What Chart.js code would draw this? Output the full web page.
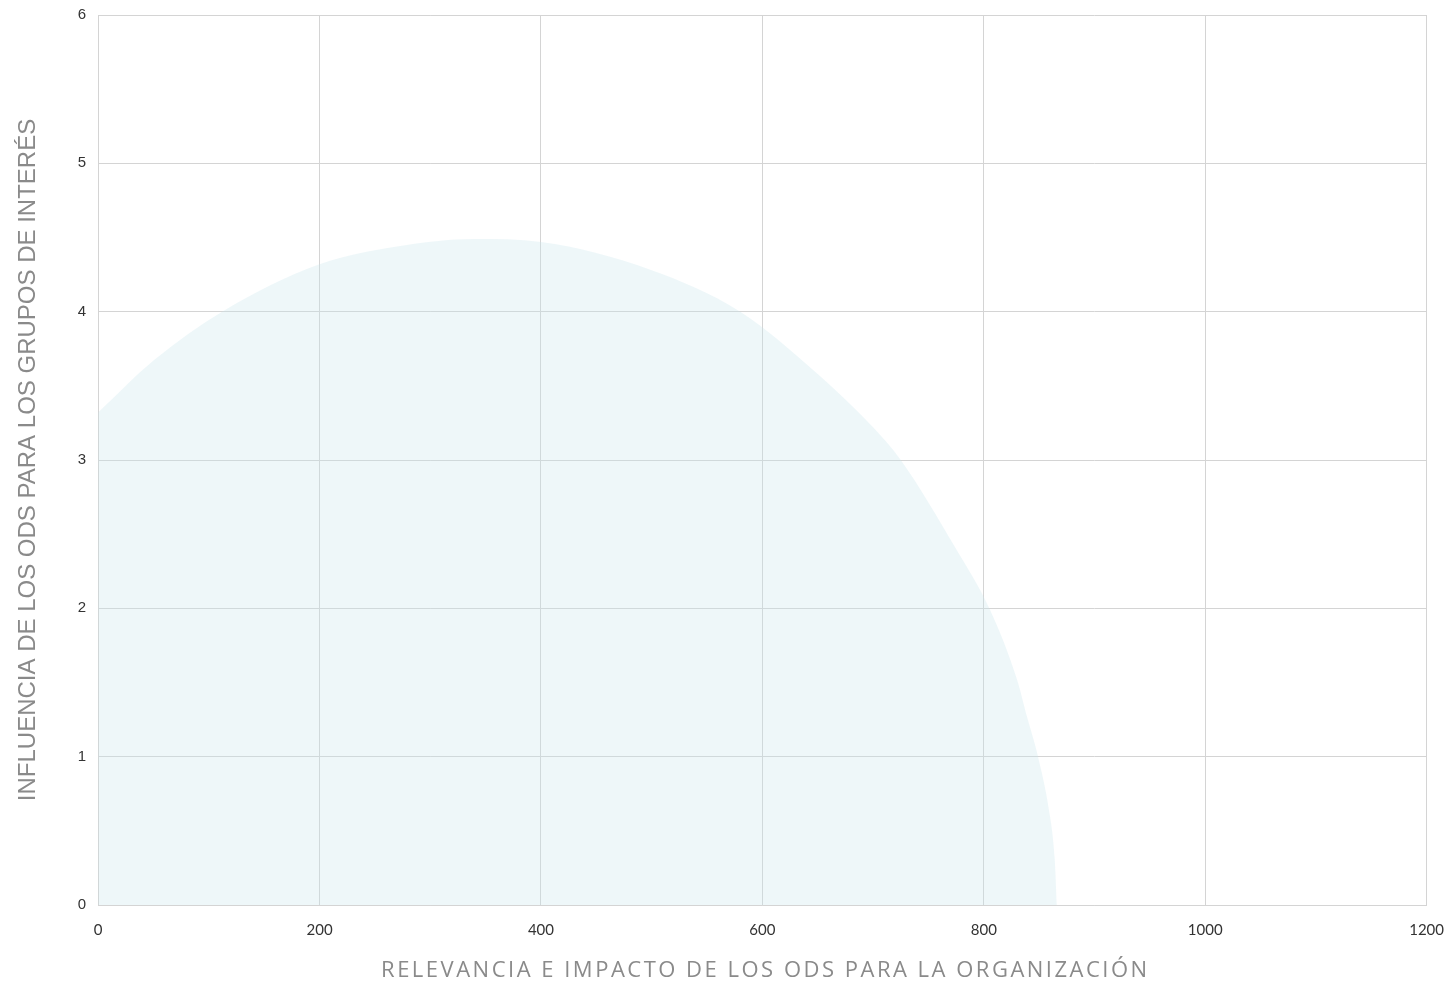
<!DOCTYPE html>
<html>
<head>
<meta charset="utf-8">
<script src="https://cdn.jsdelivr.net/npm/chart.js@4"></script>
<style>
html,body{margin:0;padding:0;background:#fff;}
#wrap{width:1450px;height:985px;}
</style>
</head>
<body>
<div id="wrap"><canvas id="c" width="1450" height="985"></canvas></div>
<script>
const xValues = [0, 50, 112, 200, 270, 340, 400, 500, 580, 650, 700, 725, 775, 805, 830, 839, 849, 860, 864, 866];
const yValues = [3.32, 3.67, 4.0, 4.32, 4.44, 4.49, 4.47, 4.28, 4.0, 3.58, 3.22, 3.0, 2.40, 2.0, 1.52, 1.27, 1.0, 0.59, 0.32, 0];
const xTickValues = [0, 200, 400, 600, 800, 1000, 1200];
const yTickValues = [0, 1, 2, 3, 4, 5, 6];
const xTitle = 'RELEVANCIA E IMPACTO DE LOS ODS PARA LA ORGANIZACIÓN';
const yTitle = 'INFLUENCIA DE LOS ODS PARA LOS GRUPOS DE INTERÉS';

const points = xValues.map((x, i) => ({x: x, y: yValues[i]}));

const xTitlePlugin = {
  id: 'xTitle',
  afterDraw(chart) {
    const ctx = chart.ctx;
    const area = chart.chartArea;
    ctx.save();
    ctx.font = '22px "Open Sans"';
    ctx.letterSpacing = '2.5px';
    ctx.fillStyle = '#8a8a8a';
    ctx.textAlign = 'center';
    ctx.textBaseline = 'middle';
    ctx.fillText(xTitle, (area.left + area.right) / 2 + 3, 971);
    ctx.restore();
  }
};

new Chart(document.getElementById('c'), {
  type: 'scatter',
  data: {
    datasets: [{
      data: points,
      showLine: true,
      fill: 'origin',
      backgroundColor: 'rgba(200,228,236,0.3)',
      borderWidth: 0,
      borderColor: 'rgba(0,0,0,0)',
      pointRadius: 0,
      cubicInterpolationMode: 'monotone'
    }]
  },
  plugins: [xTitlePlugin],
  options: {
    responsive: false,
    animation: false,
    layout: {padding: {top: 0, left: 14, right: 0, bottom: 40}},
    plugins: {legend: {display: false}, tooltip: {enabled: false}},
    scales: {
      x: {
        type: 'linear', min: xTickValues[0], max: xTickValues[xTickValues.length - 1],
        afterBuildTicks: (axis) => { axis.ticks = xTickValues.map(v => ({value: v})); },
        ticks: {color: '#333', font: {family: 'Lato', size: 15}, padding: 6, callback: (v) => String(v)},
        grid: {color: '#d4d4d4', drawTicks: true, tickLength: 10, tickColor: 'rgba(0,0,0,0)'},
        border: {color: '#d4d4d4'}
      },
      y: {
        type: 'linear', min: yTickValues[0], max: yTickValues[yTickValues.length - 1],
        afterBuildTicks: (axis) => { axis.ticks = yTickValues.map(v => ({value: v})); },
        ticks: {color: '#333', font: {family: 'Liberation Sans', size: 15}, padding: 6, callback: (v) => String(v)},
        grid: {color: '#d4d4d4', drawTicks: true, tickLength: 6, tickColor: 'rgba(0,0,0,0)'},
        border: {color: '#d4d4d4'},
        title: {display: true, text: yTitle, color: '#8a8a8a', font: {family: 'Liberation Sans', size: 24}, padding: {top: 0, bottom: 29}}
      }
    }
  }
});
</script>
</body>
</html>
